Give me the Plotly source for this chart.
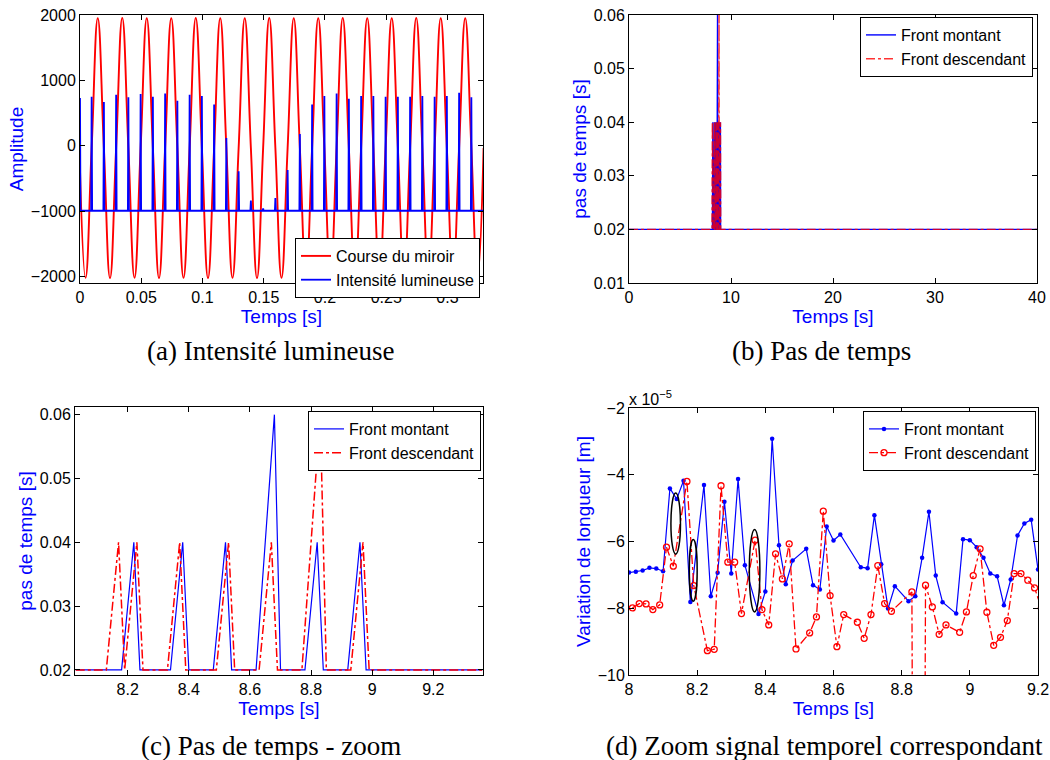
import plotly.graph_objects as go

# ---------------- data ----------------
# (a) Course du miroir : key points read on the curve (zero crossings / extrema)
course_t = [-0.0005, 0.0045, 0.0095, 0.0145, 0.0195, 0.0245, 0.0295, 0.0345, 0.0395, 0.0445,
            0.0495, 0.0545, 0.0595, 0.0645, 0.0695, 0.0745, 0.0795, 0.0845, 0.0895, 0.0945,
            0.0995, 0.1045, 0.1095, 0.1145, 0.1195, 0.1245, 0.1295, 0.1345, 0.1395, 0.1445,
            0.1495, 0.1545, 0.1595, 0.1645, 0.1695, 0.1745, 0.1795, 0.1845, 0.1895, 0.1945,
            0.1995, 0.2045, 0.2095, 0.2145, 0.2195, 0.2245, 0.2295, 0.2345, 0.2395, 0.2445,
            0.2495, 0.2545, 0.2595, 0.2645, 0.2695, 0.2745, 0.2795, 0.2845, 0.2895, 0.2945,
            0.2995, 0.3045, 0.3095, 0.3145, 0.3195, 0.3245, 0.3295]
course_v = [-35, -2020, -35, 1950, -35, -2025, -35, 1955, -35, -2020,
            -35, 1950, -35, -2025, -35, 1950, -35, -2020, -35, 1955,
            -35, -2025, -35, 1950, -35, -2020, -35, 1950, -35, -2025,
            -35, 1955, -35, -2020, -35, 1950, -35, -2025, -35, 1950,
            -35, -2020, -35, 1955, -35, -2025, -35, 1950, -35, -2020,
            -35, 1950, -35, -2025, -35, 1955, -35, -2020, -35, 1950,
            -35, -2025, -35, 1950, -35, -2020, -35]

# (a) Intensité lumineuse : baseline and spikes
intens_base = -995
spike_t = [0.0, 0.0095, 0.0195, 0.0295, 0.0395, 0.0495, 0.0595, 0.0695, 0.0795, 0.0895,
           0.0995, 0.1095, 0.1195, 0.1295, 0.1395, 0.1495, 0.1595, 0.1695, 0.1795, 0.1895,
           0.1995, 0.2095, 0.2195, 0.2295, 0.2395, 0.2495, 0.2595, 0.2695, 0.2795, 0.2895,
           0.2995, 0.3095, 0.3195]
spike_h = [730, 750, 670, 780, 740, 790, 750, 800, 690, 780,
           760, 630, 120, -390, -840, -960, -800, -370, 180, 630,
           760, 800, 720, 760, 760, 750, 750, 750, 760, 750,
           760, 810, 740]
spike_halfwidth = 0.0004
a_xrange = [0, 0.329]
a_yrange = [-2100, 2000]
a_xticks = [0, 0.05, 0.1, 0.15, 0.2, 0.25, 0.3]
a_xticktext = ["0", "0.05", "0.1", "0.15", "0.2", "0.25", "0.3"]
a_yticks = [-2000, -1000, 0, 1000, 2000]
a_yticktext = ["\u22122000", "\u22121000", "0", "1000", "2000"]

# (c) Pas de temps - zoom
c_mont_t = [8.03, 8.18, 8.22, 8.24, 8.34, 8.38, 8.40, 8.48, 8.52, 8.54, 8.62, 8.68, 8.70,
            8.78, 8.82, 8.84, 8.92, 8.96, 8.98, 9.36]
c_mont_dt = [0.02, 0.02, 0.04, 0.02, 0.02, 0.04, 0.02, 0.02, 0.04, 0.02, 0.02, 0.06, 0.02,
             0.02, 0.04, 0.02, 0.02, 0.04, 0.02, 0.02]
c_desc_t = [8.03, 8.13, 8.17, 8.19, 8.23, 8.25, 8.33, 8.37, 8.39, 8.49, 8.53, 8.55, 8.63,
            8.67, 8.69, 8.77, 8.83, 8.85, 8.93, 8.97, 8.99, 9.36]
c_desc_dt = [0.02, 0.02, 0.04, 0.02, 0.04, 0.02, 0.02, 0.04, 0.02, 0.02, 0.04, 0.02, 0.02,
             0.04, 0.02, 0.02, 0.06, 0.02, 0.02, 0.04, 0.02, 0.02]
c_xrange = [8.0275, 9.3626]
c_yrange = [0.0192, 0.0612]
c_xticks = [8.2, 8.4, 8.6, 8.8, 9.0, 9.2]
c_xticktext = ["8.2", "8.4", "8.6", "8.8", "9", "9.2"]
c_yticks = [0.02, 0.03, 0.04, 0.05, 0.06]
c_yticktext = ["0.02", "0.03", "0.04", "0.05", "0.06"]

# (b) Pas de temps (full run, same steps, constant elsewhere)
b_start, b_end, b_base = 0, 40, 0.02
b_xrange = [0, 40]
b_yrange = [0.01, 0.06]
b_xticks = [0, 10, 20, 30, 40]
b_xticktext = ["0", "10", "20", "30", "40"]
b_yticks = [0.01, 0.02, 0.03, 0.04, 0.05, 0.06]
b_yticktext = ["0.01", "0.02", "0.03", "0.04", "0.05", "0.06"]

# (d) Zoom signal temporel (values in 1e-5 m)
d_mont_t = [8.00, 8.02, 8.04, 8.06, 8.08, 8.10, 8.12, 8.14, 8.16, 8.18,
            8.22, 8.24, 8.26, 8.28, 8.30, 8.32, 8.34,
            8.38, 8.40, 8.42, 8.44, 8.46, 8.48,
            8.52, 8.54, 8.56, 8.58, 8.60, 8.62,
            8.68, 8.70, 8.72, 8.74, 8.76, 8.78,
            8.82, 8.84, 8.86, 8.88, 8.90, 8.92,
            8.96, 8.98, 9.00, 9.02, 9.04, 9.06, 9.08, 9.10, 9.12, 9.14, 9.16, 9.18, 9.20]
d_mont_v = [-6.93, -6.91, -6.87, -6.79, -6.81, -6.89, -4.41, -4.73, -4.18, -7.81,
            -4.31, -7.64, -6.94, -4.81, -6.96, -4.13, -6.71,
            -8.17, -7.50, -2.92, -6.11, -7.28, -6.57,
            -6.22, -7.31, -7.44, -5.55, -5.97, -5.79,
            -6.77, -6.80, -5.21, -6.68, -8.01, -7.34,
            -7.79, -7.64, -6.49, -5.11, -7.02, -7.82,
            -8.16, -5.93, -5.96, -6.17, -6.49, -6.96, -7.04, -7.91, -7.14, -5.82, -5.46, -5.35, -6.84]
d_desc_t = [8.01, 8.03, 8.05, 8.07, 8.09, 8.11, 8.13, 8.17, 8.19,
            8.23, 8.25, 8.27, 8.29, 8.31, 8.33,
            8.37, 8.39, 8.41, 8.43, 8.45, 8.47, 8.49,
            8.53, 8.55, 8.57, 8.59, 8.61, 8.63,
            8.67, 8.69, 8.71, 8.73, 8.75, 8.77,
            8.83, 8.85, 8.87, 8.89, 8.91, 8.93,
            8.97, 8.99, 9.01, 9.03, 9.05, 9.07, 9.09, 9.11, 9.13, 9.15, 9.17, 9.19, 9.21]
d_desc_v = [-7.99, -7.86, -7.87, -8.04, -7.90, -6.17, -6.74, -4.20, -7.32,
            -9.27, -9.23, -4.33, -6.62, -6.62, -8.16,
            -5.96, -8.04, -8.50, -6.37, -7.12, -6.07, -9.22,
            -8.74, -8.26, -5.09, -7.62, -9.15, -8.19,
            -8.42, -8.90, -8.19, -6.72, -7.86, -8.09,
            -7.51, -60.0, -7.31, -7.96, -8.78, -8.50,
            -8.72, -8.11, -7.02, -6.22, -8.12, -9.11, -8.87, -8.37, -6.96, -6.96, -7.16, -7.39, -8.00]
d_xrange = [8.0, 9.2]
d_yrange = [-10, -2]
d_xticks = [8.0, 8.2, 8.4, 8.6, 8.8, 9.0, 9.2]
d_xticktext = ["8", "8.2", "8.4", "8.6", "8.8", "9", "9.2"]
d_yticks = [-10, -8, -6, -4, -2]
d_yticktext = ["\u221210", "\u22128", "\u22126", "\u22124", "\u22122"]
# ellipses highlighting (t0, t1, v0, v1)
d_ellipses = [(8.123, 8.151, -4.55, -6.38), (8.177, 8.200, -5.94, -7.79), (8.353, 8.384, -5.64, -8.11)]

captions = ["(a) Intensité lumineuse", "(b) Pas de temps",
            "(c) Pas de temps - zoom", "(d) Zoom signal temporel correspondant"]

# ---------------- figure ----------------
W, H = 1050, 760
SANS = "Liberation Sans, Arial, Helvetica, sans-serif"
SERIF = "Liberation Serif, Times New Roman, serif"
BLUE = "#0000ff"
RED = "#ff0000"


def px_x(a, b):
    return [a / W, b / W]


def px_y(top, bottom):
    return [1 - bottom / H, 1 - top / H]


fig = go.Figure()

# (a)
fig.add_trace(go.Scatter(x=course_t, y=course_v, mode="lines", name="Course du miroir",
                         line=dict(color=RED, width=1.9, shape="spline", smoothing=1.3),
                         xaxis="x", yaxis="y", legend="legend"))
sx, sy = [a_xrange[0]], [intens_base]
for t, h in zip(spike_t, spike_h):
    sx += [t - spike_halfwidth, t, t + spike_halfwidth]
    sy += [intens_base, h, intens_base]
sx.append(a_xrange[1])
sy.append(intens_base)
fig.add_trace(go.Scatter(x=sx, y=sy, mode="lines", name="Intensité lumineuse",
                         line=dict(color=BLUE, width=1.8),
                         xaxis="x", yaxis="y", legend="legend"))

# (b)
fig.add_trace(go.Scatter(x=[b_start] + c_mont_t + [b_end], y=[b_base] + c_mont_dt + [b_base],
                         mode="lines", name="Front montant", line=dict(color=BLUE, width=1.4),
                         xaxis="x2", yaxis="y2", legend="legend2"))
fig.add_trace(go.Scatter(x=[b_start] + c_desc_t + [b_end], y=[b_base] + c_desc_dt + [b_base],
                         mode="lines", name="Front descendant",
                         line=dict(color=RED, width=1.4, dash="dashdot"),
                         opacity=0.8, xaxis="x2", yaxis="y2", legend="legend2"))

# (c)
fig.add_trace(go.Scatter(x=c_mont_t, y=c_mont_dt, mode="lines", name="Front montant",
                         line=dict(color=BLUE, width=1.2),
                         xaxis="x3", yaxis="y3", legend="legend3"))
fig.add_trace(go.Scatter(x=c_desc_t, y=c_desc_dt, mode="lines", name="Front descendant",
                         line=dict(color=RED, width=1.5, dash="dashdot"),
                         xaxis="x3", yaxis="y3", legend="legend3"))

# (d)
fig.add_trace(go.Scatter(x=d_mont_t, y=d_mont_v, mode="lines+markers", name="Front montant",
                         line=dict(color=BLUE, width=1.2),
                         marker=dict(color=BLUE, size=4.5, symbol="circle"),
                         xaxis="x4", yaxis="y4", legend="legend4"))
fig.add_trace(go.Scatter(x=d_desc_t, y=d_desc_v, mode="lines+markers", name="Front descendant",
                         line=dict(color=RED, width=1.3, dash="dashdot"),
                         marker=dict(color=RED, size=6, symbol="circle-open", line=dict(width=1.3)),
                         xaxis="x4", yaxis="y4", legend="legend4"))

for (t0, t1, v0, v1) in d_ellipses:
    fig.add_shape(type="circle", xref="x4", yref="y4", x0=t0, x1=t1, y0=v1, y1=v0,
                  line=dict(color="black", width=1.5))


def axis(domain, rng, tv, tt, anchor, title=None, standoff=None):
    d = dict(domain=domain, range=rng, tickmode="array", tickvals=tv, ticktext=tt,
             ticks="inside", ticklen=5, tickcolor="black", showline=True, linecolor="black",
             linewidth=1, mirror="ticks", showgrid=False, zeroline=False, anchor=anchor,
             tickfont=dict(family=SANS, size=16, color="black"), automargin=False)
    if title:
        d["title"] = dict(text=title, font=dict(family=SANS, size=19, color=BLUE), standoff=standoff)
    return d


A_X, A_Y = px_x(80, 483), px_y(15, 283)
B_X, B_Y = px_x(629, 1037), px_y(15, 283)
C_X, C_Y = px_x(75, 483), px_y(407, 675)
D_X, D_Y = px_x(629, 1038), px_y(408, 675)

legend_style = dict(bordercolor="black", borderwidth=1, bgcolor="white",
                    font=dict(family=SANS, size=16, color="black"),
                    xanchor="right", yanchor="top", itemwidth=30, tracegroupgap=0)

fig.update_layout(
    width=W, height=H, margin=dict(l=0, r=0, t=0, b=0),
    paper_bgcolor="white", plot_bgcolor="white",
    xaxis=axis(A_X, a_xrange, a_xticks, a_xticktext, "y", "Temps [s]", 0),
    yaxis=axis(A_Y, a_yrange, a_yticks, a_yticktext, "x", "Amplitude", 2),
    xaxis2=axis(B_X, b_xrange, b_xticks, b_xticktext, "y2", "Temps [s]", 0),
    yaxis2=axis(B_Y, b_yrange, b_yticks, b_yticktext, "x2", "pas de temps [s]", 2),
    xaxis3=axis(C_X, c_xrange, c_xticks, c_xticktext, "y3", "Temps [s]", 0),
    yaxis3=axis(C_Y, c_yrange, c_yticks, c_yticktext, "x3", "pas de temps [s]", 2),
    xaxis4=axis(D_X, d_xrange, d_xticks, d_xticktext, "y4", "Temps [s]", 0),
    yaxis4=axis(D_Y, d_yrange, d_yticks, d_yticktext, "x4", "Variation de longueur [m]", 2),
    legend=dict(x=480 / W, y=1 - 238 / H, **legend_style),
    legend2=dict(x=1033 / W, y=1 - 17 / H, **legend_style),
    legend3=dict(x=481 / W, y=1 - 411 / H, **legend_style),
    legend4=dict(x=1036 / W, y=1 - 411 / H, **legend_style),
)

# exponent label for (d)
fig.add_annotation(text="x 10<sup>\u22125</sup>", xref="paper", yref="paper",
                   x=627 / W, y=1 - 398 / H, xanchor="left", yanchor="middle", showarrow=False,
                   font=dict(family=SANS, size=16, color="black"))

# captions
cap_pos = [(270, 351), (821, 351), (271, 746), (824, 746)]
for text, (cx, cy) in zip(captions, cap_pos):
    fig.add_annotation(text=text, xref="paper", yref="paper", x=cx / W, y=1 - cy / H,
                       xanchor="center", yanchor="middle", showarrow=False,
                       font=dict(family=SERIF, size=27, color="black"))

fig.write_html("out.html", config={"displayModeBar": False},
               post_script="document.body.style.margin='0';")
